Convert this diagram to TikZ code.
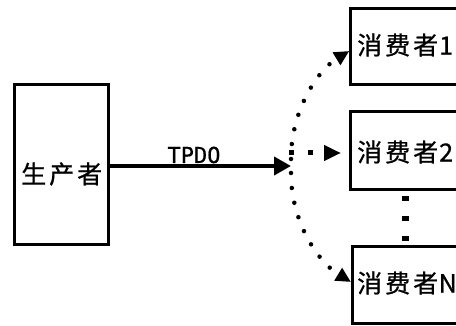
\documentclass[tikz,border=0pt]{standalone}
\usepackage{fontspec}
\newfontfamily\cjk[FakeBold=0.8]{Noto Sans CJK SC}
\newfontfamily\monof[FakeBold=0.6]{DejaVu Sans Mono}
\usetikzlibrary{arrows.meta}
\tikzset{
  box/.style={draw, line width=3pt, rectangle, inner sep=0pt},
  lbl/.style={anchor=west, inner sep=0pt, font=\cjk\fontsize{25pt}{25pt}\selectfont},
  mainarrow/.style={line width=4pt, -{Triangle[length=17pt,width=18pt]}},
  dotarrow/.style={line width=4.5pt, line cap=round, dash pattern=on 0pt off 15pt, -{Triangle[length=15pt,width=14pt]}},
  sqdots/.style={line width=7pt, dash pattern=on 5pt off 15pt},
  sqarrow/.style={line width=5pt, dash pattern=on 5pt off 14pt, -{Triangle[length=17pt,width=15pt]}}
}
\begin{document}
\begin{tikzpicture}[x=1pt,y=-1pt]
\useasboundingbox (0,0) rectangle (456,326);
\clip (0,0) rectangle (456,326);
% boxes
\node[box, minimum width=94pt, minimum height=160pt] (prod) at (61.4,165) {};
\node[box, minimum width=140pt, minimum height=76pt, anchor=west] (c1) at (349.3,46.4) {};
\node[box, minimum width=140pt, minimum height=77.5pt, anchor=west] (c2) at (349.3,150.3) {};
\node[box, minimum width=140pt, minimum height=77pt, anchor=west] (cN) at (351,285) {};
% labels
\node[lbl] (tp) at (21,174) {生\kern3pt 产\kern3pt 者};
\node[lbl] (t1) at (357,45) {消\kern3pt 费\kern3pt 者\kern1pt 1};
\node[lbl] (t2) at (357,152) {消\kern3pt 费\kern3pt 者\kern1pt 2};
\node[lbl] (tN) at (357,283) {消\kern3pt 费\kern3pt 者\kern0.5pt N};
% hub
\coordinate (hub) at (291,166);
\coordinate (hubt) at (291,159);
\coordinate (hubb) at (291,173);
\coordinate (hubm) at (289,153);
\coordinate (tipm) at (341,153);
\draw[mainarrow] (prod.east |- hub) -- (hub);
\node[inner sep=0pt, anchor=base, font=\monof\fontsize{22pt}{22pt}\selectfont] (tpdo) at (194,163) {TPDO};
% dotted arrows
\draw[dotarrow] (hubt) .. controls (291,110) and (318,70) .. (c1.west |- 0,51);
\draw[dotarrow] (hubb) .. controls (291,222) and (318,262) .. (cN.west |- 0,282);
\draw[sqarrow] (hubm) -- (tipm);
% vertical dots
\coordinate (v1) at (405,196);
\coordinate (v2) at (405,241);
\draw[sqdots] (v1) -- (v2);
\end{tikzpicture}
\end{document}
